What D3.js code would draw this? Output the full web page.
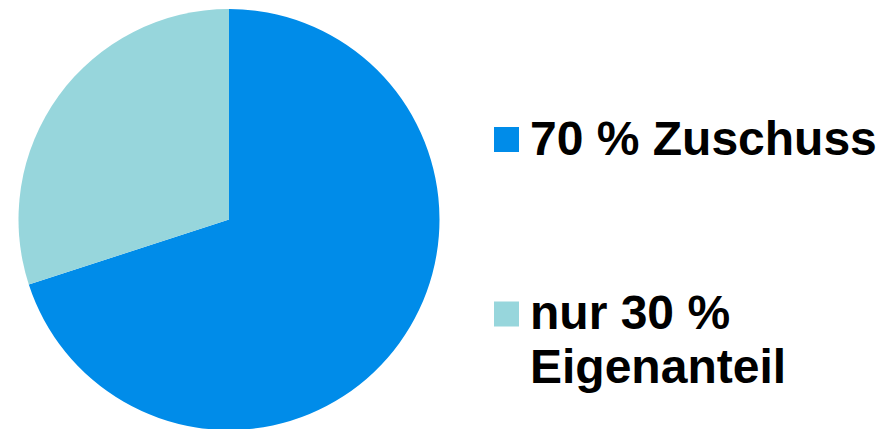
<!DOCTYPE html>
<html>
<head>
<meta charset="utf-8">
<script src="https://cdn.jsdelivr.net/npm/d3@7"></script>
<style>
  body { margin: 0; background: #fff; }
  svg { display: block; }
</style>
</head>
<body>
<div id="chart"></div>
<script>
// Data
const categories = ['70 % Zuschuss', 'nur 30 % Eigenanteil'];
const values = [70, 30];
const colors = ['#008ce9', '#97d6dc'];
// legend lines (label split as in the original)
const legendLines = [['70 % Zuschuss'], ['nur 30 %', 'Eigenanteil']];

const width = 893;
const height = 429;

const svg = d3
  .select('#chart')
  .append('svg')
  .attr('width', width)
  .attr('height', height);

// Pie centred on the left
const g = svg.append('g').attr('transform', 'translate(229,219.5)');

const pie = d3.pie().sort(null).value((d) => d);
const arc = d3.arc().innerRadius(0).outerRadius(210.5);
const colorScale = d3.scaleOrdinal().domain(categories).range(colors);

g.selectAll('path')
  .data(pie(values))
  .enter()
  .append('path')
  .attr('d', arc)
  .attr('fill', (d, i) => colorScale(categories[i]));

// Legend
const legendY = [127, 301.5];
const legend = svg
  .selectAll('.legend')
  .data(categories)
  .enter()
  .append('g')
  .attr('class', 'legend')
  .attr('transform', (d, i) => `translate(494,${legendY[i]})`);

legend
  .append('rect')
  .attr('width', 25)
  .attr('height', 25)
  .attr('fill', (d) => colorScale(d));

legend
  .append('text')
  .attr('x', 36)
  .attr('y', (d, i) => (i === 0 ? 28 : 27))
  .style('font-family', 'Liberation Sans, Arial, sans-serif')
  .style('font-weight', 'bold')
  .style('font-size', '48px')
  .attr('fill', '#000')
  .selectAll('tspan')
  .data((d, i) => legendLines[i])
  .enter()
  .append('tspan')
  .attr('x', 36)
  .attr('dy', (d, j) => (j === 0 ? 0 : 54))
  .text((d) => d);
</script>
</body>
</html>
